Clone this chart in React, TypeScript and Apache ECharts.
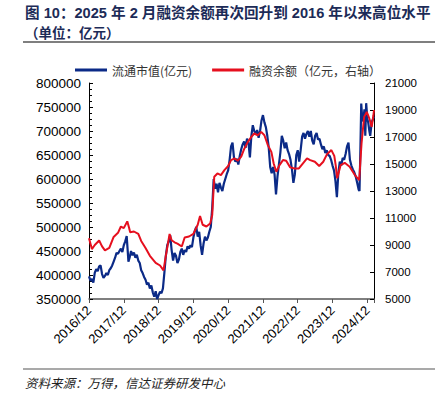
import React, { useEffect, useRef } from "react";
import * as echarts from "echarts";

// x = months since 2016/12
const xYearLabels = ["2016/12", "2017/12", "2018/12", "2019/12", "2020/12", "2021/12", "2022/12", "2023/12", "2024/12"];
const leftTicks = { min: 350000, max: 800000, step: 50000 };
const rightTicks = { min: 5000, max: 21000, step: 2000 };

const seriesNames = ["流通市值(亿元)", "融资余额（亿元，右轴）"];

// 流通市值 (亿元): [month index, value]
const marketCap: [number, number][] = [
  [0, 397000], [0.5, 388000], [1, 392000], [1.5, 384000], [2, 405000], [2.5, 412000], [3, 408000], [3.5, 418000],
  [4, 420000], [4.5, 402000], [5, 394000], [5.5, 398000], [6, 404000], [6.5, 400000], [7, 410000], [7.5, 414000],
  [8, 420000], [8.5, 428000], [9, 436000], [9.5, 446000], [10, 444000], [10.5, 450000], [11, 455000], [11.5, 448000],
  [12, 462000], [12.5, 470000], [13, 481000], [13.3, 455000], [13.6, 428000], [14, 436000], [14.5, 450000], [15, 441000],
  [15.5, 447000], [16, 436000], [16.5, 442000], [17, 430000], [17.5, 425000], [18, 410000], [18.5, 404000], [19, 396000],
  [19.5, 390000], [20, 380000], [20.5, 384000], [21, 372000], [21.5, 378000], [22, 364000], [22.5, 355000], [23, 366000],
  [23.5, 350000], [24, 358000], [24.5, 365000], [25, 362000], [25.5, 372000], [26, 405000], [26.5, 440000], [27, 462000],
  [27.5, 470000], [28, 483000], [28.5, 452000], [29, 430000], [29.5, 446000], [30, 440000], [30.5, 425000], [31, 432000],
  [31.5, 448000], [32, 455000], [32.5, 442000], [33, 452000], [33.5, 448000], [34, 460000], [34.5, 455000], [35, 462000],
  [35.5, 458000], [36, 478000], [36.5, 492000], [37, 500000], [37.5, 480000], [38, 490000], [38.5, 462000], [39, 442000],
  [39.5, 465000], [40, 480000], [40.5, 472000], [41, 478000], [41.5, 490000], [42, 500000], [42.5, 540000], [43, 600000],
  [43.5, 580000], [44, 590000], [44.5, 572000], [45, 592000], [45.5, 582000], [46, 575000], [46.5, 590000], [47, 600000],
  [47.5, 610000], [48, 618000], [48.5, 640000], [49, 668000], [49.5, 676000], [50, 645000], [50.5, 636000], [51, 642000],
  [51.5, 630000], [52, 648000], [52.5, 662000], [53, 672000], [53.5, 678000], [54, 665000], [54.5, 684000], [55, 676000],
  [55.5, 645000], [56, 690000], [56.5, 712000], [57, 700000], [57.5, 694000], [58, 702000], [58.5, 686000], [59, 700000],
  [59.5, 722000], [60, 733000], [60.5, 718000], [61, 708000], [61.5, 690000], [62, 665000], [62.5, 625000], [63, 612000],
  [63.5, 625000], [64, 610000], [64.5, 568000], [65, 605000], [65.5, 630000], [66, 655000], [66.5, 690000], [67, 680000],
  [67.5, 664000], [68, 676000], [68.5, 660000], [69, 652000], [69.5, 640000], [70, 620000], [70.5, 592000], [71, 610000],
  [71.5, 650000], [72, 660000], [72.5, 636000], [73, 660000], [73.5, 688000], [74, 696000], [74.5, 684000], [75, 694000],
  [75.5, 700000], [76, 688000], [76.5, 700000], [77, 680000], [77.5, 672000], [78, 690000], [78.5, 696000], [79, 682000],
  [79.5, 684000], [80, 672000], [80.5, 662000], [81, 668000], [81.5, 654000], [82, 660000], [82.5, 650000], [83, 648000],
  [83.5, 640000], [84, 628000], [84.5, 618000], [85, 596000], [85.5, 562000], [86, 612000], [86.5, 636000], [87, 628000],
  [87.5, 644000], [88, 640000], [88.5, 652000], [89, 668000], [89.5, 676000], [90, 640000], [90.5, 628000], [91, 620000],
  [91.5, 614000], [92, 605000], [92.5, 592000], [93, 578000], [93.3, 575000], [93.6, 660000], [93.9, 757000], [94.2, 730000],
  [94.6, 720000], [95, 745000], [95.3, 690000], [95.6, 758000], [96, 725000], [96.3, 718000], [96.7, 700000], [97, 690000],
  [97.5, 718000], [98, 726000], [98.3, 730000],
];

// 融资余额 (亿元): [month index, value]
const marginBalance: [number, number][] = [
  [0, 9500], [1, 8700], [2, 9000], [3.5, 9330], [4.5, 8900], [5.5, 8600], [7, 8780], [8.5, 9600], [10, 9900], [11, 10370],
  [12, 10250], [13.2, 10750], [13.8, 10300], [14.2, 9950], [15.5, 10000], [17, 9820], [18, 9300], [19.5, 8780], [21, 8200],
  [23, 7680], [24.5, 7480], [25.7, 7120], [26.5, 8200], [27.8, 9820], [28.5, 9350], [29.5, 9200], [30.5, 9100], [32, 8890],
  [33, 9560], [34.5, 9630], [36, 9820], [37.5, 10500], [38.3, 11150], [39.2, 10500], [40.5, 10370], [41.8, 10600],
  [42.5, 11230], [43.2, 14060], [44.3, 14300], [45.5, 14180], [46.7, 14550], [48, 14850], [49, 15290], [50.2, 15410],
  [51.3, 15240], [52.5, 15540], [53.6, 16150], [54.8, 16640], [56, 17010], [57, 17260], [58.2, 17130], [59.4, 17380],
  [60.5, 17130], [61.7, 16400], [62.9, 15900], [63.7, 15040], [64.6, 14430], [65.7, 14920], [66.9, 15290], [68, 15240],
  [69.4, 14750], [70.9, 14670], [72.4, 14670], [73.8, 15040], [75.2, 15410], [76.3, 15290], [77.9, 15170], [79.4, 14850],
  [80.8, 15170], [82.1, 15730], [83.6, 16030], [84.6, 15600], [85.1, 14900], [85.6, 13940], [86.8, 14920], [88.2, 15090],
  [89.9, 14800], [91.7, 14180], [93.2, 13810], [94, 16520], [94.9, 18490], [95.8, 18860], [96.7, 18370], [97.5, 17750],
  [98.1, 18610], [98.3, 19000],
];

const titleLine1 = "图 10：2025 年 2 月融资余额再次回升到 2016 年以来高位水平";
const titleLine2 = "（单位：亿元）";
const sourceText = "资料来源：万得，信达证券研发中心";

const FONT = "'Liberation Sans', Arial, 'Noto Sans CJK SC', sans-serif";
const CJK = "'Noto Sans CJK SC', sans-serif";

export default function App() {
  const ref = useRef<HTMLDivElement>(null);
  useEffect(() => {
    if (!ref.current) return;
    const chart = echarts.init(ref.current, null, { renderer: "svg" });
    chart.setOption({
      animation: false,
      backgroundColor: "#ffffff",
      grid: { left: 89, right: 73, top: 83, bottom: 97, containLabel: false },
      legend: {
        data: seriesNames,
        left: 70,
        top: 59,
        icon: "rect",
        itemWidth: 32,
        itemHeight: 3,
        itemGap: 20,
        textStyle: { fontSize: 12, color: "#333", fontFamily: CJK },
      },
      xAxis: {
        type: "value",
        min: 0,
        max: 98.3,
        interval: 12,
        axisLine: { show: true, lineStyle: { color: "#555", width: 1.5 } },
        axisTick: { show: true, inside: false, length: 4, lineStyle: { color: "#555" } },
        splitLine: { show: false },
        axisLabel: {
          rotate: 45,
          fontSize: 13,
          color: "#000",
          fontFamily: FONT,
          margin: 9,
          formatter: (v: number) => (v % 12 === 0 ? xYearLabels[v / 12] ?? "" : ""),
        },
      },
      yAxis: [
        {
          type: "value",
          min: leftTicks.min,
          max: leftTicks.max,
          interval: leftTicks.step,
          axisLine: { show: true, lineStyle: { color: "#000", width: 1 } },
          axisTick: { show: true, inside: true, length: 4, lineStyle: { color: "#000" } },
          minorTick: { show: true, splitNumber: 4, length: 3, lineStyle: { color: "#000" } },
          splitLine: { show: false },
          axisLabel: { fontSize: 13.5, color: "#000", fontFamily: FONT, margin: 8, formatter: (v: number) => String(v) },
        },
        {
          type: "value",
          min: rightTicks.min,
          max: rightTicks.max,
          interval: rightTicks.step,
          position: "right",
          axisLine: { show: true, lineStyle: { color: "#000", width: 1 } },
          axisTick: { show: true, inside: true, length: 4, lineStyle: { color: "#000" } },
          splitLine: { show: false },
          axisLabel: { fontSize: 11.5, color: "#000", fontFamily: FONT, margin: 11, formatter: (v: number) => String(v) },
        },
      ],
      series: [
        {
          name: seriesNames[0],
          type: "line",
          data: marketCap,
          yAxisIndex: 0,
          showSymbol: false,
          symbol: "none",
          lineStyle: { color: "#0b2a87", width: 2.2 },
          itemStyle: { color: "#0b2a87" },
          z: 2,
        },
        {
          name: seriesNames[1],
          type: "line",
          data: marginBalance,
          yAxisIndex: 1,
          showSymbol: false,
          symbol: "none",
          lineStyle: { color: "#e60f1e", width: 2 },
          itemStyle: { color: "#e60f1e" },
          z: 3,
        },
      ],
      graphic: [
        {
          type: "text",
          left: 25,
          top: 6,
          style: { text: titleLine1, fontSize: 14.6, fontWeight: "bold", fill: "#1c2b57", fontFamily: FONT },
        },
        {
          type: "text",
          left: 25,
          top: 25,
          style: { text: titleLine2, fontSize: 13.5, fontWeight: "bold", fill: "#1c2b57", fontFamily: CJK },
        },
        {
          type: "line",
          shape: { x1: 23, y1: 42, x2: 435, y2: 42 },
          style: { stroke: "#7f7f7f", lineWidth: 2 },
        },
        {
          type: "line",
          shape: { x1: 23, y1: 369, x2: 435, y2: 369 },
          style: { stroke: "#8c8c8c", lineWidth: 1.5 },
        },
        {
          type: "text",
          left: 25,
          top: 376,
          style: { text: sourceText, fontSize: 12.5, fontStyle: "italic", fill: "#222", fontFamily: CJK },
        },
      ],
    });
    return () => chart.dispose();
  }, []);
  return <div ref={ref} style={{ position: "fixed", left: 0, top: 0, width: 447, height: 396 }} />;
}
